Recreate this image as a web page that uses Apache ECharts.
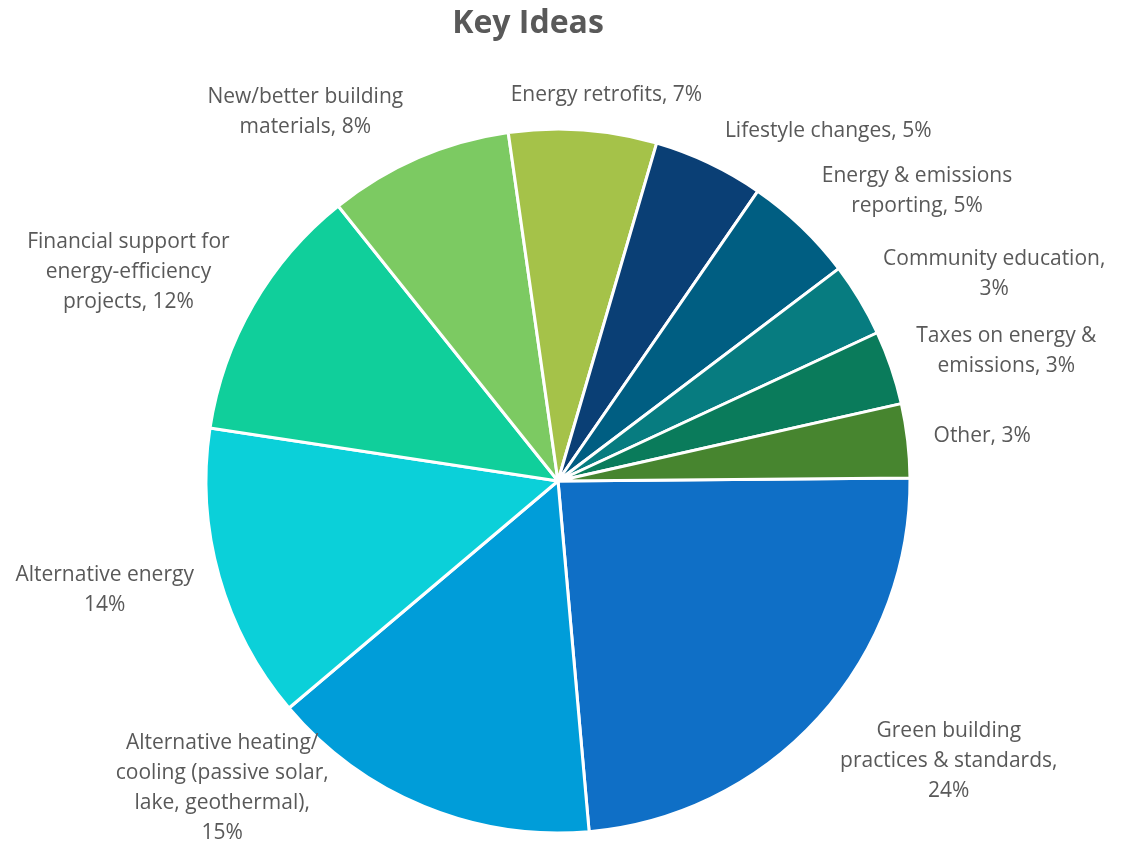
<!DOCTYPE html>
<html lang="en">
<head>
    <meta charset="UTF-8">
    <title>Key Ideas</title>
    <script src="https://cdn.jsdelivr.net/npm/echarts@6/dist/echarts.min.js"></script>
    <style>
        html, body { margin: 0; padding: 0; background: #fff; }
        #main { width: 1122px; height: 848px; }
    </style>
</head>
<body>
<div id="main"></div>
<script>
    // categories and counts (percent labels are computed from these)
    var categories = [
        'Green building practices & standards',
        'Alternative heating/cooling (passive solar, lake, geothermal)',
        'Alternative energy',
        'Financial support for energy-efficiency projects',
        'New/better building materials',
        'Energy retrofits',
        'Lifestyle changes',
        'Energy & emissions reporting',
        'Community education',
        'Taxes on energy & emissions',
        'Other'
    ];
    var values = [14, 9, 8, 7, 5, 4, 3, 3, 2, 2, 2];
    // label text as it is broken into lines, {p} = percent
    var labelTexts = [
        'Green building\npractices & standards,\n{p}',
        'Alternative heating/\ncooling (passive solar,\nlake, geothermal),\n{p}',
        'Alternative energy\n{p}',
        'Financial support for\nenergy-efficiency\nprojects, {p}',
        'New/better building\nmaterials, {p}',
        'Energy retrofits, {p}',
        'Lifestyle changes, {p}',
        'Energy & emissions\nreporting, {p}',
        'Community education,\n{p}',
        'Taxes on energy &\nemissions, {p}',
        'Other, {p}'
    ];
    var colors = ['#0F6FC6', '#009DD9', '#0BD0D9', '#10CF9B', '#7CCA62', '#A5C249',
        '#0A3F75', '#005E82', '#077C80', '#0A7B5B', '#47852F'];

    var W = 1122, H = 848;
    var CX = 558, CY = 481, R = 352;
    var START = 0.5;          // degrees above 3 o'clock where the first slice begins
    var GAP = 18, PADX = 8, PADY = 2;
    var total = values.reduce(function (a, b) { return a + b; }, 0);

    // put each label just outside its slice, like excel's "outside end"
    function placeLabel(i, w, h) {
        var before = 0;
        for (var k = 0; k < i; k++) before += values[k];
        var mid = (-START + (before + values[i] / 2) / total * 360) * Math.PI / 180;
        var ux = Math.cos(mid), uy = Math.sin(mid);
        var px = CX + (R + GAP) * ux, py = CY + (R + GAP) * uy;
        var fx = Math.max(-1, Math.min(1, 3 * ux));
        var x = px + fx * (w / 2 + PADX);
        var y = py + uy * (h / 2 + PADY);
        // keep inside the chart
        y = Math.min(Math.max(y, h / 2), H - h / 2);
        x = Math.min(Math.max(x, w / 2), W - w / 2);
        // if that pushed it onto the pie, slide it sideways
        var clear = R - 15;
        var nx = Math.max(x - w / 2, Math.min(CX, x + w / 2));
        var ny = Math.max(y - h / 2, Math.min(CY, y + h / 2));
        var dy = ny - CY;
        if (Math.abs(dy) < clear && Math.hypot(nx - CX, dy) < clear) {
            var need = Math.sqrt(clear * clear - dy * dy);
            x = x < CX ? CX - need - w / 2 : CX + need + w / 2;
        }
        return {x: x, y: y};
    }

    var myChart = echarts.init(document.getElementById('main'));
    var option = {
        animation: false,
        backgroundColor: '#fff',
        title: {
            text: 'Key Ideas',
            left: 528,
            top: 8,
            textAlign: 'center',
            padding: 0,
            textStyle: {
                fontFamily: 'Open Sans',
                fontSize: 32,
                fontWeight: 'bold',
                color: '#595959'
            }
        },
        series: [
            {
                name: 'Key Ideas',
                type: 'pie',
                center: [CX, CY],
                radius: R,
                startAngle: START,
                clockwise: true,
                avoidLabelOverlap: false,
                itemStyle: {
                    borderColor: '#fff',
                    borderWidth: 3
                },
                label: {
                    show: true,
                    position: 'inside',
                    fontFamily: 'Open Sans',
                    fontSize: 21,
                    lineHeight: 30,
                    color: '#595959',
                    formatter: function (p) {
                        var pct = Math.round(p.value / total * 100) + '%';
                        return labelTexts[p.dataIndex].replace('{p}', pct);
                    }
                },
                labelLine: {show: false},
                labelLayout: function (params) {
                    var pos = placeLabel(params.dataIndex, params.labelRect.width, params.labelRect.height);
                    return {x: pos.x, y: pos.y, align: 'center', verticalAlign: 'middle'};
                },
                emphasis: {scale: false},
                data: categories.map(function (name, i) {
                    return {name: name, value: values[i], itemStyle: {color: colors[i]}};
                })
            }
        ]
    };
    myChart.setOption(option);
</script>
</body>
</html>
